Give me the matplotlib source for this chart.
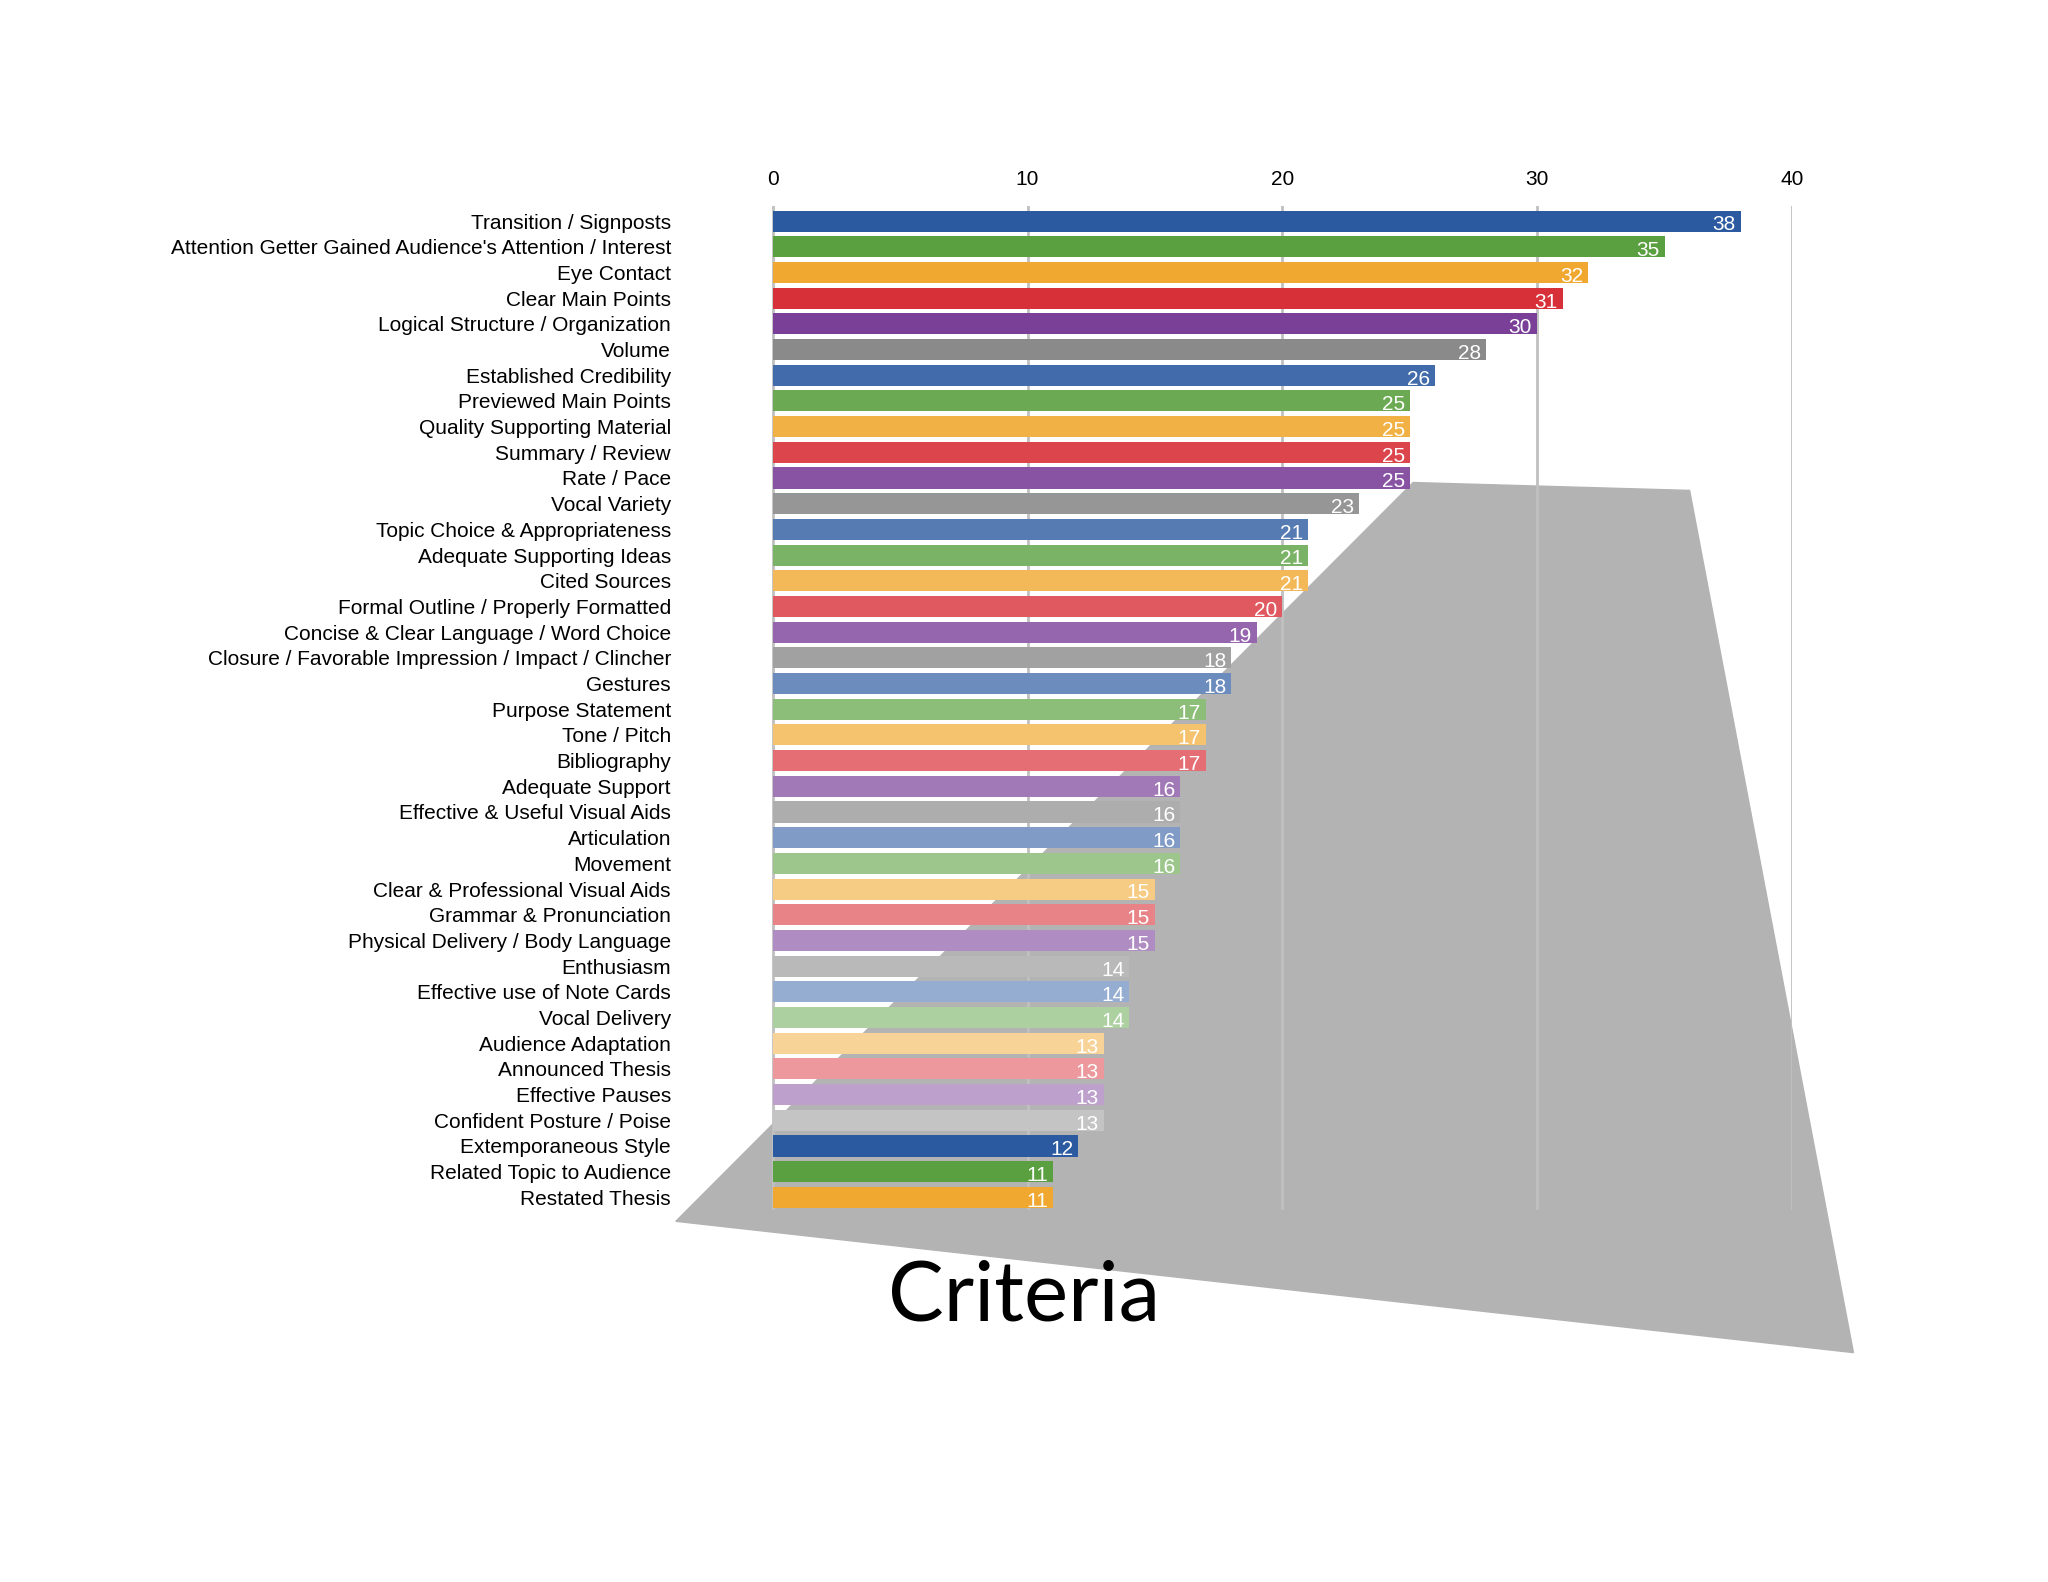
import matplotlib
matplotlib.use("Agg")
import matplotlib.pyplot as plt
import matplotlib.colors as mc
import numpy as np
from matplotlib.patches import Polygon

categories = ["Transition / Signposts", "Attention Getter Gained Audience's Attention / Interest", "Eye Contact",
    "Clear Main Points", "Logical Structure / Organization", "Volume", "Established Credibility",
    "Previewed Main Points", "Quality Supporting Material", "Summary / Review", "Rate / Pace", "Vocal Variety",
    "Topic Choice & Appropriateness", "Adequate Supporting Ideas", "Cited Sources", "Formal Outline / Properly Formatted",
    "Concise & Clear Language / Word Choice", "Closure / Favorable Impression / Impact / Clincher", "Gestures",
    "Purpose Statement", "Tone / Pitch", "Bibliography", "Adequate Support", "Effective & Useful Visual Aids",
    "Articulation", "Movement", "Clear & Professional Visual Aids", "Grammar & Pronunciation",
    "Physical Delivery / Body Language", "Enthusiasm", "Effective use of Note Cards", "Vocal Delivery",
    "Audience Adaptation", "Announced Thesis", "Effective Pauses", "Confident Posture / Poise",
    "Extemporaneous Style", "Related Topic to Audience", "Restated Thesis"]
values = [38, 35, 32, 31, 30, 28, 26, 25, 25, 25, 25, 23, 21, 21, 21, 20, 19, 18, 18, 17, 17, 17,
          16, 16, 16, 16, 15, 15, 15, 14, 14, 14, 13, 13, 13, 13, 12, 11, 11]
ticks = [0, 10, 20, 30, 40]

base = ["#2c5aa0", "#5aa040", "#f0a830", "#d83038", "#7a4098", "#8a8a8a"]
colors = []
for i in range(len(values)):
    cyc = 0 if i >= 36 else i // 6
    c = np.array(mc.to_rgb(base[i % 6]))
    f = cyc * 0.1
    colors.append(tuple(c + (1 - c) * f))

fig = plt.figure(figsize=(20.48, 15.82), dpi=100)
plt.rcParams['font.family'] = ['Liberation Sans', 'DejaVu Sans']
ax = fig.add_axes([0.33, 0.235, 0.545, 0.635])
ax.set_facecolor("none")
ax.add_patch(Polygon([[0.33, 0.228], [0.69, 0.695], [0.825, 0.69], [0.905, 0.145]],
                     closed=True, transform=fig.transFigure, color="#b3b3b3", zorder=0, clip_on=False))
y = np.arange(len(values))
ax.barh(y, values, height=0.82, color=colors, edgecolor="none", zorder=3)
for yi, v in zip(y, values):
    ax.text(v - 0.2, yi + 0.15, str(v), color="white", ha="right", va="center", fontsize=15, zorder=4)
ax.set_yticks(y)
ax.set_yticklabels(categories, fontsize=15)
ax.set_ylim(len(values) - 0.5, -0.6)
ax.set_xlim(-3.8, 40)
ax.set_xticks(ticks)
ax.xaxis.tick_top()
ax.tick_params(axis='x', labelsize=15, length=0, pad=12)
ax.tick_params(axis='y', length=0)
for t in ticks:
    ax.axvline(t, color="#c0c0c0", lw=2, zorder=1)
for s in ax.spines.values():
    s.set_visible(False)
fig.text(0.5, 0.18, "Criteria", fontsize=60, ha="center", va="center", family=["Lato", "DejaVu Sans"])
fig.savefig("out.png", dpi=100, facecolor="white")
